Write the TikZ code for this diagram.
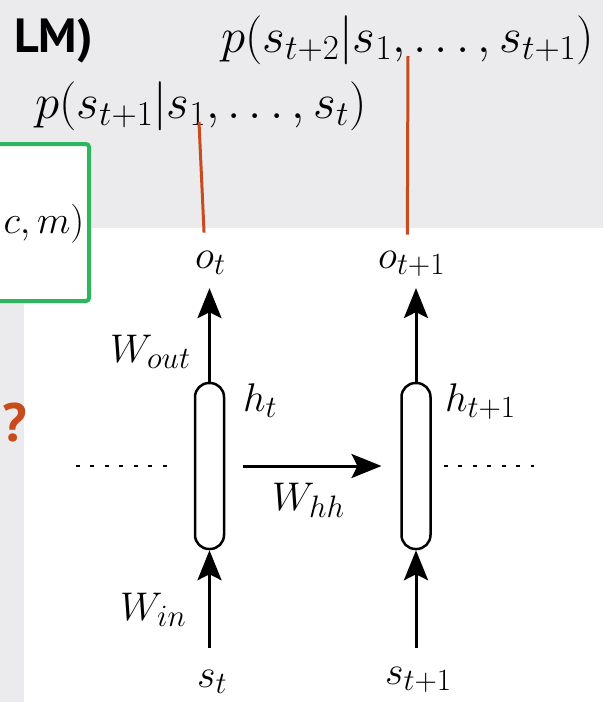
\RequirePackage{fix-cm}
\documentclass[tikz,border=0pt]{standalone}
\usepackage{fontspec}
\usepackage{amsmath}
\usetikzlibrary{arrows.meta,positioning}
\newfontfamily\slidefont{PT Sans}
\DeclareMathSizes{40}{40}{31}{24}
\DeclareMathSizes{49}{49}{35}{26}
\definecolor{slidegray}{HTML}{EBEBED}
\definecolor{rust}{HTML}{C84B1E}
\definecolor{boxgreen}{HTML}{2EB65E}

\begin{document}
\begin{tikzpicture}[x=1pt, y=-1pt,
  lbl/.style={inner sep=0pt, font=\fontsize{40}{44}\selectfont},
  toplbl/.style={inner sep=0pt, font=\fontsize{49}{54}\selectfont},
  cell/.style={draw, line width=2.5pt, fill=white, rounded corners=14pt,
    minimum width=29pt, minimum height=166pt, inner sep=0pt},
  wire/.style={line width=3pt, -{Stealth[length=30pt, width=24pt, inset=6pt]}},
  dots/.style={line width=2.5pt, dash pattern=on 4pt off 10.5pt},
  probline/.style={rust, line width=3pt}]
  \useasboundingbox (0,0) rectangle (603,702);
  % Slide background and white figure panel
  \fill[slidegray] (0,0) rectangle (603,702);
  \fill[white] (24,228) rectangle (603,702);
  % Slide leftovers
  \node[anchor=base east, inner sep=0pt, font=\slidefont\bfseries\fontsize{48}{52}\selectfont] (title) at (93,52) {LM)};
  \node[anchor=base west, inner sep=0pt, rust, font=\slidefont\bfseries\fontsize{54}{60}\selectfont] (qmark) at (2,441) {?};
  \node[draw=boxgreen, line width=4pt, fill=white, rounded corners=3pt,
    minimum width=101pt, minimum height=157pt, inner sep=0pt] (cond) at (38.5,222.5) {};
  \node[anchor=base east, inner sep=0pt, font=\fontsize{39}{44}\selectfont] (condtext) at (84.5,233) {$c, m)$};
  % Output probabilities
  \node[toplbl, anchor=base west] (p1) at (35,118) {$p(s_{t+1}|s_1,\ldots,s_t)$};
  \node[toplbl, anchor=base west] (p2) at (221,52) {$p(s_{t+2}|s_1,\ldots,s_{t+1})$};
  \coordinate (p1foot) at (199,122);
  \coordinate (p2foot) at (408,56);
  % Hidden units
  \node[cell] (ht) at (209.5,466) {};
  \node[cell] (hn) at (416,466) {};
  % Inputs and outputs
  \node[lbl, anchor=base west] (ot) at (195,268) {$o_t$};
  \node[lbl, anchor=base west] (on) at (378,268) {$o_{t+1}$};
  \node[lbl, anchor=base west] (st) at (197,687) {$s_t$};
  \node[lbl, anchor=base west] (sn) at (385,684) {$s_{t+1}$};
  % Labels
  \node[lbl, anchor=base west] (htlbl) at (243,411) {$h_t$};
  \node[lbl, anchor=base west] (hnlbl) at (445,411) {$h_{t+1}$};
  \node[lbl, anchor=base west] (wout) at (110,362) {$W_{out}$};
  \node[lbl, anchor=base west] (whh) at (272,510) {$W_{hh}$};
  \node[lbl, anchor=base west] (win) at (120,620) {$W_{in}$};
  % Connections
  \draw[wire, shorten <=21.8pt] (st.north -| ht) -- (ht.south);
  \draw[wire, shorten <=18.8pt] (sn.north -| hn) -- (hn.south);
  \draw[wire, shorten >=14pt] (ht.north) -- (ot.south -| ht);
  \draw[wire, shorten >=11.7pt] (hn.north) -- (on.south -| hn);
  \draw[wire, shorten <=17.75pt, shorten >=18.75pt] (ht.east) -- (hn.west);
  \draw[dots] ([xshift=-118pt]ht.west) -- ([xshift=-27pt]ht.west);
  \draw[dots] ([xshift=12pt]hn.east) -- ([xshift=102pt]hn.east);
  \draw[probline] (p1foot) -- ([xshift=-6.3pt,yshift=18pt]ot.north);
  \draw[probline] (p2foot) -- ([xshift=-4.3pt,yshift=16pt]on.north);
\end{tikzpicture}
\end{document}
